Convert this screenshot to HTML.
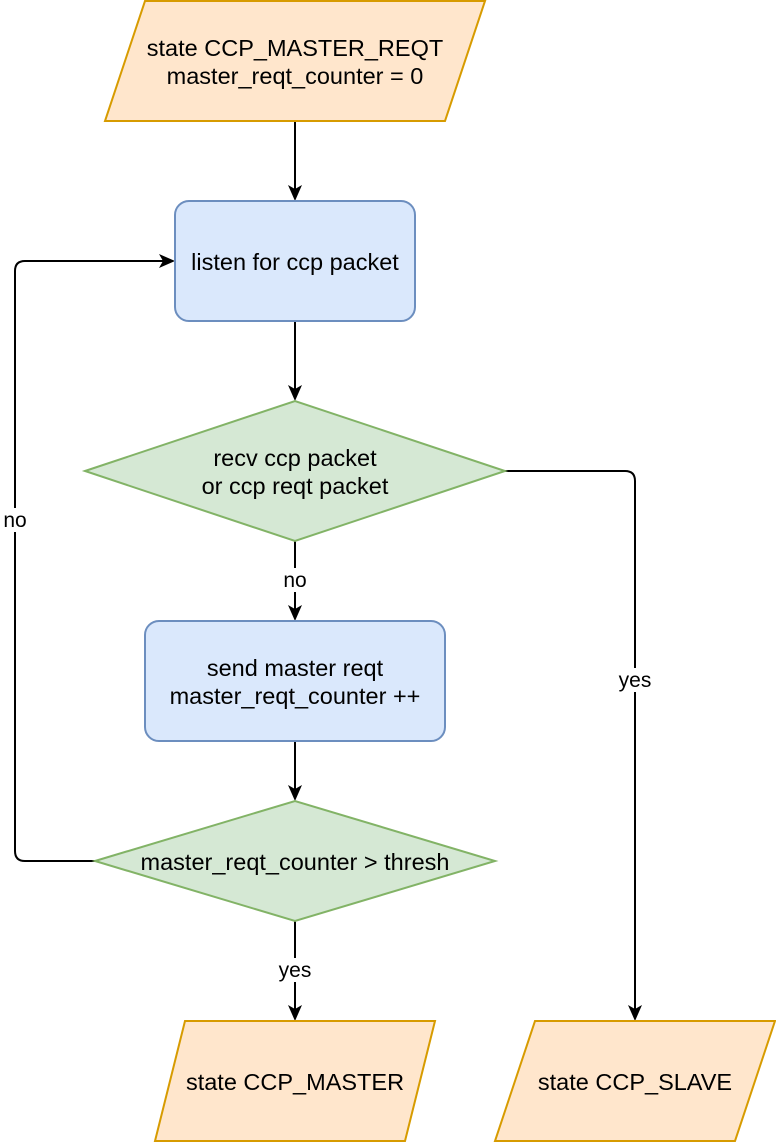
<!DOCTYPE html>
<html><head><meta charset="utf-8"><style>html,body{margin:0;padding:0;background:#fff}svg{display:block}</style></head>
<body>
<svg width="776" height="1142" viewBox="0 0 776 1142" xmlns="http://www.w3.org/2000/svg" font-family="Liberation Sans, Arial, sans-serif">
<g stroke="#000" stroke-width="2" fill="none">
<line x1="295" y1="121" x2="295" y2="192"/>
<line x1="295" y1="321" x2="295" y2="392"/>
<line x1="295" y1="541" x2="295" y2="612"/>
<line x1="295" y1="741" x2="295" y2="792"/>
<line x1="295" y1="921" x2="295" y2="1012"/>
<path d="M505,471 H625 Q635,471 635,481 V1012"/>
<path d="M95,861 H25 Q15,861 15,851 V271 Q15,261 25,261 H166"/>
</g>
<g fill="#000">
<path d="M295,201 L288,185 L295,189 L302,185 Z"/>
<path d="M295,401 L288,385 L295,389 L302,385 Z"/>
<path d="M295,621 L288,605 L295,609 L302,605 Z"/>
<path d="M295,801 L288,785 L295,789 L302,785 Z"/>
<path d="M295,1021 L288,1005 L295,1009 L302,1005 Z"/>
<path d="M635,1021 L628,1005 L635,1009 L642,1005 Z"/>
<path d="M175,261 L159,254 L163,261 L159,268 Z"/>
</g>
<g stroke-width="2">
<polygon points="145,1 485,1 445,121 105,121" fill="#ffe6cc" stroke="#d79b00"/>
<rect x="175" y="201" width="240" height="120" rx="14" fill="#dae8fc" stroke="#6c8ebf"/>
<polygon points="85,471 295,401 505,471 295,541" fill="#d5e8d4" stroke="#82b366"/>
<rect x="145" y="621" width="300" height="120" rx="14" fill="#dae8fc" stroke="#6c8ebf"/>
<polygon points="95,861 295,801 495,861 295,921" fill="#d5e8d4" stroke="#82b366"/>
<polygon points="185,1021 435,1021 405,1141 155,1141" fill="#ffe6cc" stroke="#d79b00"/>
<polygon points="535,1021 775,1021 735,1141 495,1141" fill="#ffe6cc" stroke="#d79b00"/>
</g>
<g font-size="23.5" fill="#000" text-anchor="middle">
<text x="295" y="56">state CCP_MASTER_REQT</text>
<text x="295" y="84">master_reqt_counter = 0</text>
<text x="295" y="270">listen for ccp packet</text>
<text x="295" y="466">recv ccp packet</text>
<text x="295" y="494">or ccp reqt packet</text>
<text x="295" y="676">send master reqt</text>
<text x="295" y="704">master_reqt_counter ++</text>
<text x="295" y="870">master_reqt_counter &gt; thresh</text>
<text x="295" y="1090">state CCP_MASTER</text>
<text x="635" y="1090">state CCP_SLAVE</text>
</g>
<g font-size="21" fill="#000" text-anchor="middle">
<rect x="280" y="568" width="30" height="24" fill="#fff"/><text x="295" y="587">no</text>
<rect x="276" y="958" width="38" height="24" fill="#fff"/><text x="295" y="977">yes</text>
<rect x="616" y="668" width="38" height="24" fill="#fff"/><text x="635" y="687">yes</text>
<rect x="1" y="508" width="28" height="24" fill="#fff"/><text x="15" y="527">no</text>
</g>
</svg>
</body></html>
